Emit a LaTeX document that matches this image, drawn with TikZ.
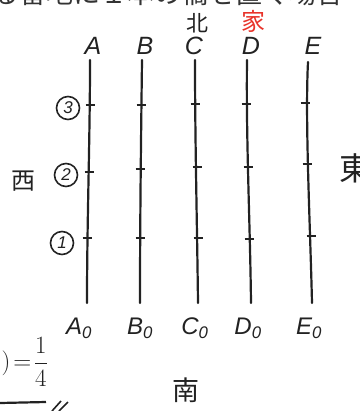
\documentclass[tikz,border=0pt]{standalone}
\usepackage{fontspec}
\setmainfont{Liberation Sans}
\newfontfamily\jp{Noto Sans CJK JP}
\definecolor{hand}{HTML}{222222}
\definecolor{redink}{HTML}{E8332A}
\begin{document}
\begin{tikzpicture}[x=1pt,y=-1pt,
  pole/.style={draw=hand,line width=2.2pt,line cap=round},
  tick/.style={draw=hand,line width=2.2pt},
  top/.style={font=\itshape\fontsize{25}{25}\selectfont,text=hand,inner sep=0pt},
  bot/.style={font=\itshape\fontsize{24}{24}\selectfont,text=hand,inner sep=0pt},
  num/.style={circle,draw=hand,line width=1.6pt,inner sep=0.5pt,minimum size=23pt,font=\itshape\fontsize{17}{17}\selectfont,text=hand},
  dir/.style={font=\jp\fontsize{24}{24}\selectfont,text=hand,inner sep=0pt}]
\useasboundingbox (0,0) rectangle (359,411);
\clip (0,0) rectangle (359,411);
% cropped caption at the top
\node[anchor=base west,font=\jp\fontsize{27}{27}\selectfont,text=black!80,inner sep=0pt] (title) at (-8,4) {る番地に１本の橋を置く場合};
% top labels
\node[top] (lA) at (93,46) {A};
\node[top] (lB) at (145,46) {B};
\node[top] (lC) at (194,46) {C};
\node[top] (lD) at (251,46) {D};
\node[top] (lE) at (313,46) {E};
\node[dir,font=\jp\fontsize{22}{22}\selectfont] (north) at (197,23) {北};
\node[dir,font=\jp\fontsize{24}{24}\selectfont,text=redink] (home) at (253,21) {家};
% pole end points
\coordinate (At) at (90,60);  \coordinate (Ab) at (87,303);
\coordinate (Bt) at (142,60); \coordinate (Bb) at (140,303);
\coordinate (Ct) at (195,60); \coordinate (Cb) at (198,303);
\coordinate (Dt) at (247,60); \coordinate (Db) at (251,303);
\coordinate (Et) at (308,62); \coordinate (Eb) at (312,303);
\draw[pole] (At) .. controls (90,140) and (87,220) .. (Ab);
\draw[pole] (Bt) .. controls (141,140) and (140,220) .. (Bb);
\draw[pole] (Ct) .. controls (195,140) and (197,220) .. (Cb);
\draw[pole] (Dt) .. controls (246,140) and (250,220) .. (Db);
\draw[pole] (Et) .. controls (305,120) and (310,220) .. (Eb);
% ticks
\foreach \x/\y in {90/105,89/172,87/238, 141/105,140/169,140/238,
                   195/104,197/167,198/238, 246/104,248/167,249/239,
                   305/103,307/164,311/236}
  \draw[tick] (\x-4.5,\y) -- (\x+4.5,\y);
% row numbers
\node[num] (r3) at (68,108) {3};
\node[num] (r2) at (66,175) {2};
\node[num] (r1) at (62,243) {1};
% directions
\node[dir] (west) at (24,181) {西};
\node[dir,font=\jp\fontsize{32}{32}\selectfont] (east) at (355,168) {東};
\node[dir,font=\jp\fontsize{27}{27}\selectfont] (south) at (186,390) {南};
% bottom labels
\node[bot] (A0) at (79,328) {A\textsubscript{0}};
\node[bot] (B0) at (140,328) {B\textsubscript{0}};
\node[bot] (C0) at (195,328) {C\textsubscript{0}};
\node[bot] (D0) at (248,328) {D\textsubscript{0}};
\node[bot] (E0) at (309,328) {E\textsubscript{0}};
% cut-off formula at bottom left
\node[font=\fontsize{30}{30}\selectfont,text=hand,inner sep=0pt,anchor=east] (frac) at (48,362) {$\displaystyle )\!=\!\frac{1}{4}$};
\coordinate (ul) at (0,403);
\coordinate (ur) at (46,402);
\draw[hand,line width=2.2pt] (ul) -- (ur);
\coordinate (s1a) at (61,401); \coordinate (s1b) at (52,411);
\coordinate (s2a) at (68,402); \coordinate (s2b) at (59,411);
\draw[hand,line width=1.6pt] (s1a) -- (s1b);
\draw[hand,line width=1.6pt] (s2a) -- (s2b);
\end{tikzpicture}
\end{document}
